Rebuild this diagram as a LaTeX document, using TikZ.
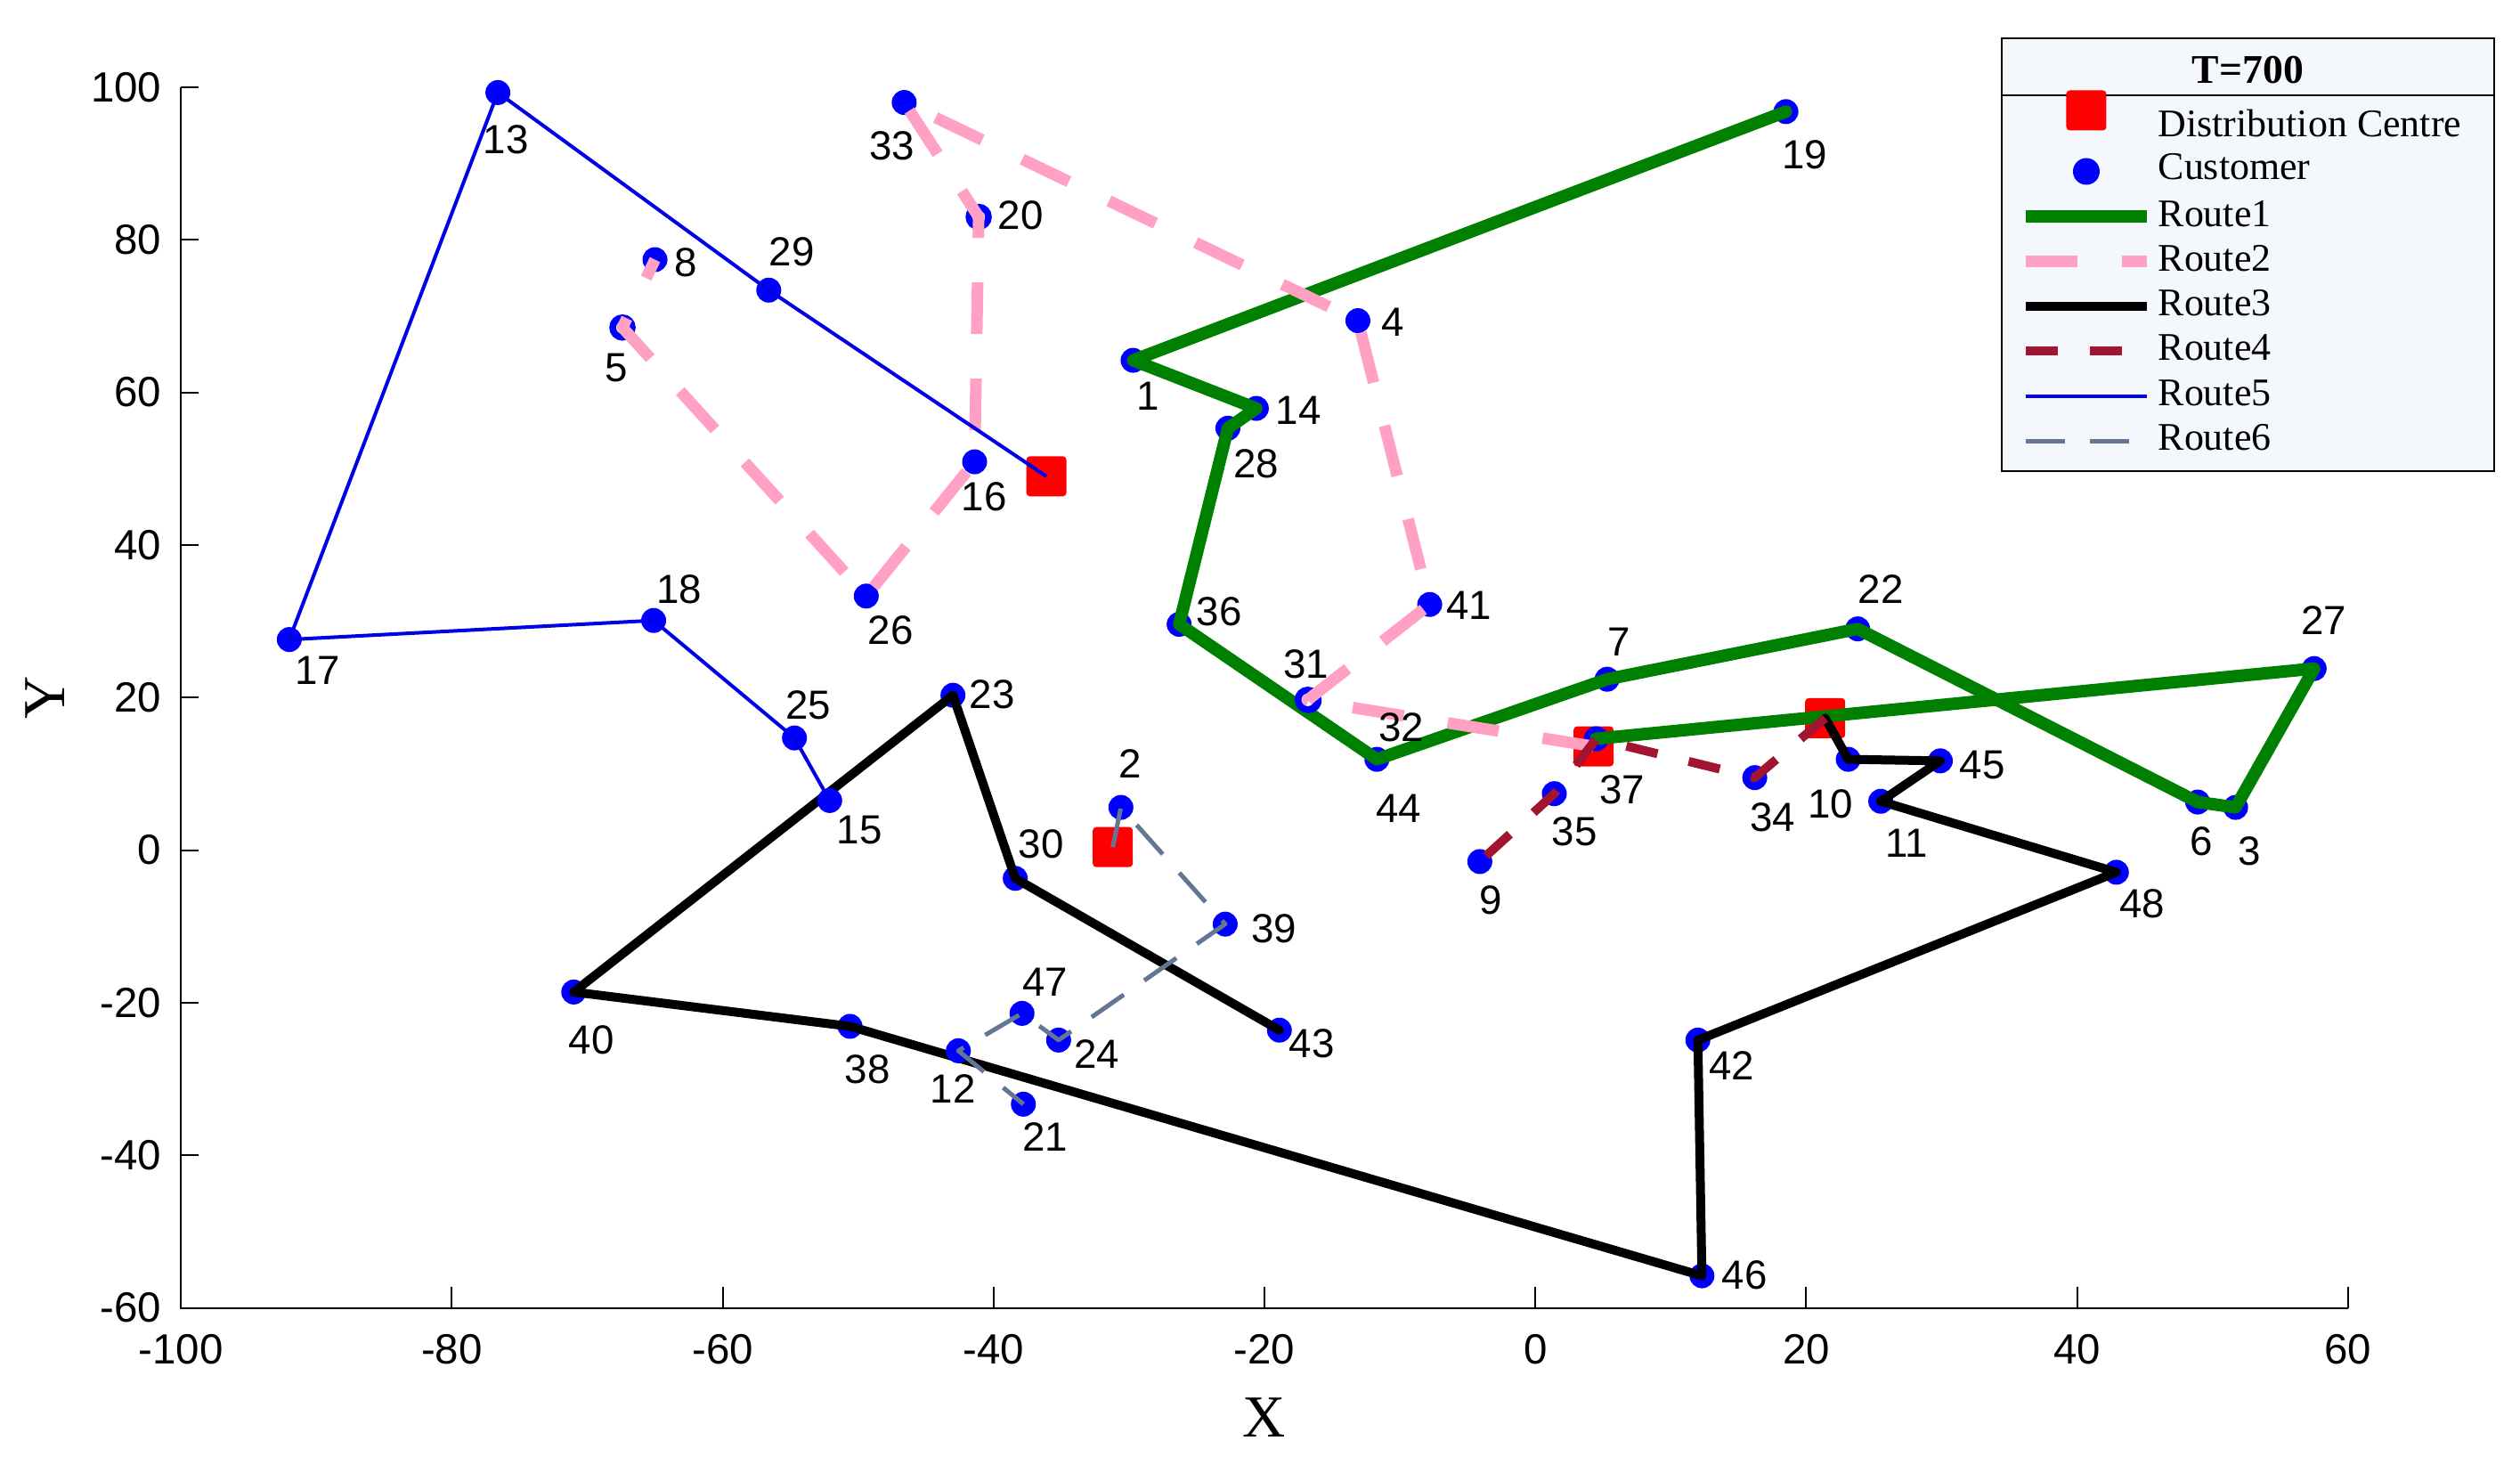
\documentclass[tikz,border=0pt]{standalone}
\usepackage{fontspec}
\setmainfont{Liberation Serif}
\setsansfont{Liberation Sans}
\definecolor{custblue}{RGB}{0,0,255}
\definecolor{dcred}{RGB}{255,0,0}
\definecolor{rgreen}{RGB}{0,128,0}
\definecolor{rpink}{RGB}{255,160,196}
\definecolor{rdarkred}{RGB}{162,20,47}
\definecolor{rblue}{RGB}{0,0,230}
\definecolor{rslate}{RGB}{100,118,148}
\definecolor{legbg}{RGB}{244,247,251}

\begin{document}
\begin{tikzpicture}[x=0.1521cm,y=0.08566cm,
  cust/.style={circle,fill=custblue,inner sep=0pt,minimum size=0.28cm},
  custring/.style={circle,draw=custblue,fill=white,line width=0.075cm,inner sep=0pt,minimum size=0.22cm},
  dc/.style={rectangle,fill=dcred,rounded corners=0.04cm,inner sep=0pt,minimum size=0.45cm},
  lbl/.style={font=\sffamily\fontsize{13}{15}\selectfont,inner sep=0pt},
  ticklbl/.style={font=\sffamily\fontsize{13.5}{16}\selectfont,inner sep=0pt},
  axlbl/.style={font=\fontsize{19}{22}\selectfont,inner sep=0pt},
  legtext/.style={font=\fontsize{12.5}{15}\selectfont,inner sep=0pt,anchor=base west},
  route1/.style={draw=rgreen,line width=0.14cm,line join=round,line cap=round},
  route2/.style={draw=rpink,line width=0.13cm,line join=round,dash pattern=on 0.58cm off 0.5cm},
  route3/.style={draw=black,line width=0.10cm,line join=round,line cap=round},
  route4/.style={draw=rdarkred,line width=0.10cm,line join=round,dash pattern=on 0.36cm off 0.36cm},
  route5/.style={draw=rblue,line width=0.04cm,line join=round},
  route6/.style={draw=rslate,line width=0.05cm,line join=round,dash pattern=on 0.44cm off 0.28cm},
  axisline/.style={line width=0.6pt}]
\useasboundingbox (-113.36,-80.49) rectangle (72.70,111.43);

\draw[axisline] (-100,100) -- (-100,-60) -- (60,-60);
\foreach \t [count=\i] in {-100,-80,...,60} {
  \draw[axisline] (\t,-60) -- (\t,-57.2);
  \node[ticklbl,anchor=north] (xt\i) at (\t,-63.45) {\t};
}
\foreach \t [count=\i] in {-60,-40,...,100} {
  \draw[axisline] (-100,\t) -- (-98.69,\t);
  \node[ticklbl,anchor=east] (yt\i) at (-101.4,\t) {\t};
}
\node[axlbl] (xlab) at (-20,-74.4) {X};
\node[axlbl,rotate=90] (ylab) at (-110,20) {Y};

\node[dc] (dc1) at (-36.1,49.0) {};
\node[dc] (dc2) at (-31.2,0.4) {};
\node[dc] (dc3) at (4.3,13.6) {};
\node[dc] (dc4) at (21.4,17.3) {};

\foreach \n/\x/\y in {37/4.5/14.6,27/57.5/23.8,3/51.7/5.6,6/48.9/6.3,22/23.8/29.0,7/5.3/22.4,
  44/-11.7/11.9,36/-26.3/29.6,28/-22.7/55.3,14/-20.6/57.9,1/-29.7/64.2,19/18.5/96.8}
  \node[cust] (c\n) at (\x,\y) {};
\draw[route1] (c37.center) -- (c27.center) -- (c3.center) -- (c6.center) -- (c22.center) -- (c7.center)
  -- (c44.center) -- (c36.center) -- (c28.center) -- (c14.center) -- (c1.center) -- (c19.center);

\foreach \n/\x/\y in {32/-16.7/19.6,41/-7.8/32.2,4/-13.1/69.4,33/-46.6/98.0,16/-41.4/50.9,
  26/-49.4/33.3,8/-65.0/77.4}
  \node[cust] (c\n) at (\x,\y) {};
\foreach \n/\x/\y in {31/-16.8/19.7,20/-41.1/83.0,5/-67.4/68.5}
  \node[custring] (c\n) at (\x,\y) {};
\draw[route2] (dc3.center) -- (c32.center) -- (c31.center) -- (c41.center) -- (c4.center) -- (c33.center)
  -- (c20.center) -- (c16.center) -- (c26.center) -- (c5.center) -- (c8.center);

\foreach \n/\x/\y in {10/23.1/11.9,45/29.9/11.7,11/25.5/6.4,48/42.9/-2.9,42/12.0/-24.9,46/12.3/-55.8,
  38/-50.6/-23.1,40/-71.0/-18.6,23/-43.0/20.3,30/-38.4/-3.7,43/-18.9/-23.6}
  \node[cust] (c\n) at (\x,\y) {};
\draw[route3] (dc4.center) -- (c10.center) -- (c45.center) -- (c11.center) -- (c48.center) -- (c42.center)
  -- (c46.center) -- (c38.center) -- (c40.center) -- (c23.center) -- (c30.center) -- (c43.center);

\foreach \n/\x/\y in {34/16.2/9.5,35/1.4/7.4,9/-4.1/-1.5}
  \node[cust] (c\n) at (\x,\y) {};
\draw[route4] (dc4.center) -- (c34.center) -- (c37.center) -- (c35.center) -- (c9.center);

\foreach \n/\x/\y in {29/-56.6/73.4,13/-76.6/99.3,17/-92.0/27.6,18/-65.1/30.1,25/-54.7/14.7,15/-52.1/6.5}
  \node[cust] (c\n) at (\x,\y) {};
\draw[route5] (dc1.center) -- (c29.center) -- (c13.center) -- (c17.center) -- (c18.center) -- (c25.center)
  -- (c15.center);

\foreach \n/\x/\y in {2/-30.6/5.6,39/-22.9/-9.7,24/-35.2/-24.9,47/-37.9/-21.4,12/-42.6/-26.3,21/-37.8/-33.3}
  \node[cust] (c\n) at (\x,\y) {};
\draw[route6] (dc2.center) -- (c2.center) -- (c39.center) -- (c24.center) -- (c47.center) -- (c12.center)
  -- (c21.center);

\foreach \n/\x/\y in {13/-76.0/93.1,33/-47.5/92.3,20/-38.0/83.2,8/-62.7/77.0,29/-54.9/78.4,5/-67.85/63.2,
  1/-28.6/59.5,28/-20.6/50.65,16/-40.7/46.3,26/-47.6/28.8,36/-23.35/31.3,18/-63.2/34.2,17/-89.9/23.6,
  23/-40.1/20.4,25/-53.7/19.0,19/19.9/91.1,4/-10.5/69.2,14/-17.5/57.7,41/-4.9/32.1,22/25.5/34.2,
  27/58.2/30.1,7/6.2/27.3,31/-16.95/24.4,2/-29.9/11.3,15/-49.9/2.6,30/-36.5/0.8,39/-19.3/-10.3,
  47/-36.2/-17.3,24/-32.4/-26.7,40/-69.7/-24.9,38/-49.3/-28.7,12/-43.0/-31.3,21/-36.2/-37.6,
  44/-10.1/5.5,37/6.4/7.9,35/2.9/2.4,34/17.5/4.3,10/21.8/6.0,45/33.0/11.2,11/27.4/0.9,6/49.2/1.1,
  3/52.7/-0.1,48/44.8/-7.05,9/-3.3/-6.6,43/-16.5/-25.4,42/14.5/-28.3,46/15.45/-55.7,32/-9.9/16.1}
  \node[lbl] (t\n) at (\x,\y) {\n};

\draw[line width=0.6pt,fill=legbg] (34.43,49.67) rectangle (70.79,106.41);
\draw[line width=0.8pt] (34.43,98.93) -- (70.79,98.93);
\node[font=\bfseries\fontsize{13}{15}\selectfont,inner sep=0pt,anchor=base] (legtitle) at (52.61,100.5) {T=700};
\node[dc] (legdc) at (40.68,96.96) {};
\node[cust,minimum size=0.30cm] (legcust) at (40.68,88.96) {};
\node[legtext] (legdct) at (45.94,93.53) {Distribution Centre};
\node[legtext] (legcustt) at (45.94,87.88) {Customer};
\foreach \r/\yy in {1/83.03,2/77.19,3/71.24,4/65.43,5/59.48,6/53.64} {
  \coordinate (la\r) at (36.24,\yy);
  \coordinate (lb\r) at (45.15,\yy);
  \draw[route\r,line cap=butt] (la\r) -- (lb\r);
  \node[legtext] (lr\r) at (45.94,\yy-1.25) {Route\r};
}
\end{tikzpicture}
\end{document}
